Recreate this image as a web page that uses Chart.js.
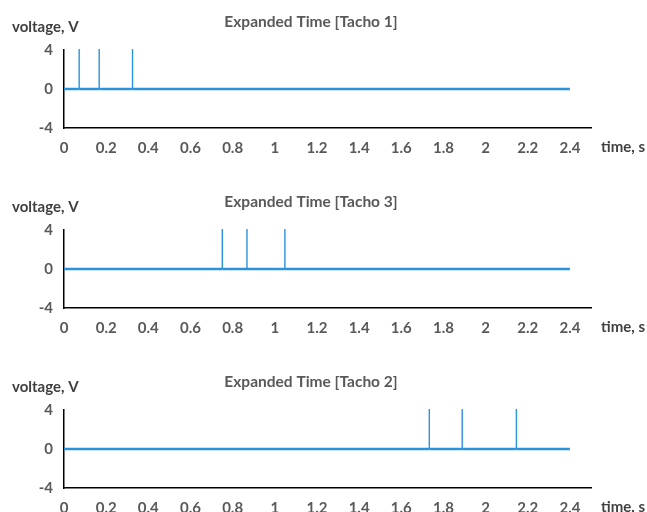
<!DOCTYPE html>
<html>
<head>
<meta charset="utf-8">
<script src="https://cdn.jsdelivr.net/npm/chart.js@4"></script>
<style>
    html, body { margin: 0; padding: 0; background: #fff; overflow: hidden; }
    .panel { position: absolute; left: 0; width: 647px; height: 175px; }
</style>
</head>
<body>
<div class="panel" style="top:0px"><canvas id="chart1"></canvas></div>
<div class="panel" style="top:180px"><canvas id="chart2"></canvas></div>
<div class="panel" style="top:360px"><canvas id="chart3"></canvas></div>
<script>
const panelTitles = ["Expanded Time [Tacho 1]", "Expanded Time [Tacho 3]", "Expanded Time [Tacho 2]"];
const pulsesTacho1 = [0.072, 0.167, 0.325];
const pulsesTacho3 = [0.751, 0.868, 1.048];
const pulsesTacho2 = [1.733, 1.889, 2.146];
const pulseHeight = 4.1;
const baseLevel = 0;
const traceEnd = 2.4;
const xTicks = [0, 0.2, 0.4, 0.6, 0.8, 1, 1.2, 1.4, 1.6, 1.8, 2, 2.2, 2.4];
const yTicks = [-4, 0, 4];

const LINE_COLOR = "#2b93dc";
const LABEL_COLOR = "#595959";
const FONT = "Lato, 'Open Sans', sans-serif";

function buildTrace(pulses) {
    const pts = [{ x: 0, y: baseLevel }];
    pulses.forEach(t => {
        pts.push({ x: t, y: baseLevel });
        pts.push({ x: t, y: pulseHeight });
        pts.push({ x: t, y: baseLevel });
    });
    pts.push({ x: traceEnd, y: baseLevel });
    return pts;
}

const axisLabels = {
    id: "axisLabels",
    afterDraw(chart, args, opts) {
        const ctx = chart.ctx;
        const area = chart.chartArea;
        ctx.save();
        ctx.textBaseline = "middle";
        ctx.fillStyle = LABEL_COLOR;
        ctx.font = "bold 15.5px " + FONT;
        ctx.textAlign = "center";
        ctx.fillText(opts.title, 311, 22);
        ctx.fillStyle = "#404040";
        ctx.textAlign = "left";
        ctx.font = "bold 15px " + FONT;
        ctx.fillText("voltage, V", 12, 27);
        ctx.fillText("time, s", 601, area.bottom + 19);
        ctx.restore();
    }
};

function renderPanel(canvasId, title, pulses) {
    const ctx = document.getElementById(canvasId).getContext("2d");
    new Chart(ctx, {
        type: "line",
        data: {
            datasets: [{
                data: buildTrace(pulses),
                borderColor: LINE_COLOR,
                borderWidth: 2.5,
                pointRadius: 0,
                tension: 0,
                clip: false,
                segment: {
                    borderWidth: c => c.p0.parsed.x === c.p1.parsed.x ? 1.4 : 2.5
                }
            }]
        },
        plugins: [axisLabels],
        options: {
            responsive: true,
            maintainAspectRatio: false,
            animation: false,
            layout: { padding: { left: 0, right: 56, top: 50, bottom: 17 } },
            scales: {
                x: {
                    type: "linear",
                    min: 0,
                    max: 2.5,
                    afterBuildTicks: axis => { axis.ticks = xTicks.map(v => ({ value: v })); },
                    afterFit: axis => { axis.height = 30; },
                    grid: { display: false, drawTicks: false },
                    border: { display: true, color: "#000", width: 1.5 },
                    ticks: {
                        color: LABEL_COLOR,
                        padding: 11,
                        maxRotation: 0,
                        autoSkip: false,
                        font: { family: FONT, size: 15, weight: "bold" },
                        callback: v => String(Math.round(v * 10) / 10)
                    }
                },
                y: {
                    min: -4,
                    max: 4,
                    afterBuildTicks: axis => { axis.ticks = yTicks.map(v => ({ value: v })); },
                    afterFit: axis => { axis.width = 64; },
                    grid: { display: false, drawTicks: false },
                    border: { display: true, color: "#000", width: 1.5 },
                    ticks: {
                        color: LABEL_COLOR,
                        padding: 11,
                        font: { family: FONT, size: 15, weight: "bold" }
                    }
                }
            },
            plugins: {
                legend: { display: false },
                tooltip: { enabled: false },
                axisLabels: { title: title }
            }
        }
    });
}

renderPanel("chart1", panelTitles[0], pulsesTacho1);
renderPanel("chart2", panelTitles[1], pulsesTacho3);
renderPanel("chart3", panelTitles[2], pulsesTacho2);
</script>
</body>
</html>
